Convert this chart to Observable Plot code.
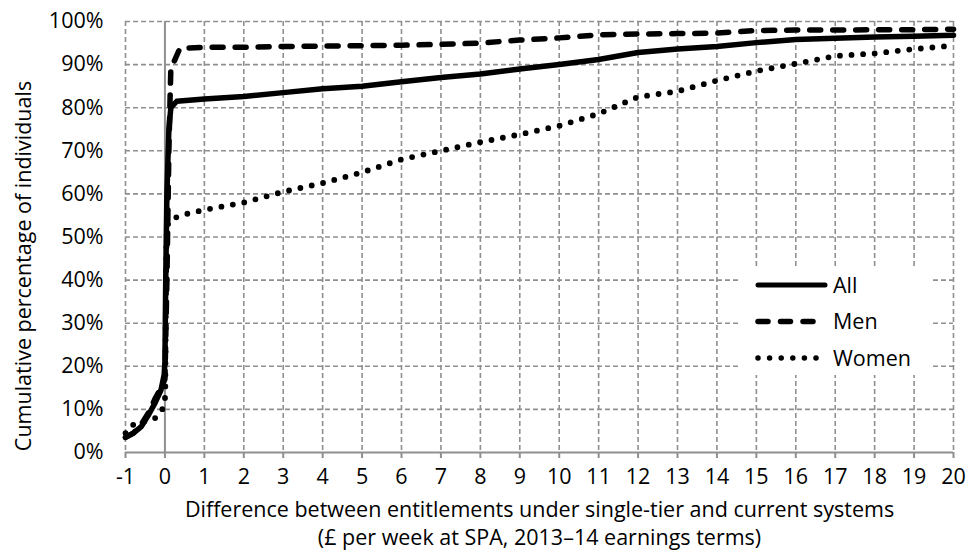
<!DOCTYPE html>
<html>
<head>
<meta charset="utf-8">
<script src="https://cdn.jsdelivr.net/npm/d3@7"></script>
<script src="https://cdn.jsdelivr.net/npm/@observablehq/plot@0.6"></script>
<style>
  html, body { margin: 0; padding: 0; background: white; }
</style>
</head>
<body>
<div id="chart"></div>
<script>
// ---- Data ----
const xTicks = [-1,0,1,2,3,4,5,6,7,8,9,10,11,12,13,14,15,16,17,18,19,20];
const yTicks = [0,10,20,30,40,50,60,70,80,90,100];

const allData = [
  [-1,3.5],[-0.8,4.5],[-0.6,6],[-0.4,9],[-0.25,11.5],[-0.1,14.5],[-0.02,18],[0,21],
  [0.02,40],[0.05,60],[0.1,75],[0.15,80],[0.3,81.5],[1,82],[2,82.6],[3,83.5],[4,84.4],
  [5,85],[6,86],[7,87],[8,87.8],[9,89],[10,90],[11,91.2],[12,92.8],[13,93.6],[14,94.2],
  [15,95.1],[16,95.8],[17,96.1],[18,96.4],[19,96.6],[20,96.8]
];
const menData = [
  [-1,3.5],[-0.8,4.5],[-0.6,6.5],[-0.4,9.5],[-0.25,12.5],[-0.1,15],[0,17],[0.05,40],
  [0.1,70],[0.13,82],[0.15,89],[0.38,93.8],[1,94],[2,94],[3,94.2],[4,94.3],[5,94.4],
  [6,94.5],[7,94.7],[8,95],[9,95.7],[10,96.2],[11,96.9],[12,97.1],[13,97.2],[14,97.3],
  [15,97.9],[16,98],[17,98],[18,98.1],[19,98.1],[20,98.2]
];
const womenData = [
  [-1,4.5],[-0.85,6.3],[-0.6,7],[-0.28,7.7],[-0.08,9.6],[0,12],[0.01,15],[0.02,30],
  [0.04,50],[0.08,53],[0.15,54.2],[0.3,54.6],[0.57,55.4],[1,56.3],[2,58],[3,60.5],
  [4,62.5],[5,65],[6,68],[7,70],[8,72],[9,73.8],[10,75.8],[11,78.6],[12,82.5],[13,83.8],
  [14,86.3],[15,88.5],[16,90.2],[17,92],[18,92.6],[19,93.6],[20,94.4]
];
const seriesNames = ["All", "Men", "Women"];
const yLabel = "Cumulative percentage of individuals";
const xLabelLines = [
  "Difference between entitlements under single-tier and current systems",
  "(£ per week at SPA, 2013–14 earnings terms)"
];

// ---- Styles ----
const styles = {
  All:   {dash: null,       width: 5.5},
  Men:   {dash: "11 12",    width: 5.5},
  Women: {dash: "0 11.6",   width: 5.8}
};
const gridColor = "#8f8f8f";
const font = "'Open Sans', 'Noto Sans', sans-serif";
const fs = 21.5;

const dataBy = {All: allData, Men: menData, Women: womenData};
const rows = seriesNames.flatMap(name => dataBy[name].map(([x, y]) => ({x, y, series: name})));

const lineMark = name => Plot.line(rows.filter(d => d.series === name), {
  x: "x", y: "y", stroke: "black",
  strokeWidth: styles[name].width,
  strokeDasharray: styles[name].dash,
  strokeLinecap: "round", strokeLinejoin: "round", curve: "linear"
});

const plot = Plot.plot({
  width: 974, height: 554,
  marginLeft: 125, marginRight: 21, marginTop: 21, marginBottom: 102,
  style: {fontFamily: font, fontSize: fs + "px", color: "black", background: "white", overflow: "visible"},
  x: {domain: [-1, 20], ticks: xTicks, label: null},
  y: {domain: [0, 100], ticks: yTicks, label: null},
  marks: [
    Plot.gridX(xTicks.filter(d => d !== 0), {stroke: gridColor, strokeOpacity: 1, strokeWidth: 1.6, strokeDasharray: "5 3"}),
    Plot.gridY(yTicks.filter(d => d !== 0), {stroke: gridColor, strokeOpacity: 1, strokeWidth: 1.6, strokeDasharray: "5 3"}),
    Plot.ruleX([0], {stroke: gridColor, strokeWidth: 2}),
    Plot.ruleY([0], {stroke: gridColor, strokeWidth: 2}),
    Plot.axisX(xTicks, {tickSize: 6, tickPadding: 10, stroke: gridColor, strokeWidth: 2, fill: "black", tickFormat: d => String(d), label: null, fontSize: fs}),
    Plot.axisY(yTicks, {tickSize: 0, tickPadding: 22, tickFormat: d => d + "%", label: null, fill: "black", fontSize: fs}),
    Plot.text([yLabel], {text: d => d, frameAnchor: "left", textAnchor: "middle", rotate: -90, dx: -101, dy: 29, fontSize: fs, fill: "black"}),
    Plot.text([xLabelLines.join("\n")], {text: d => d, frameAnchor: "bottom", textAnchor: "middle", lineAnchor: "top", dy: 44, lineHeight: 1.32, fontSize: fs, fill: "black"}),
    lineMark("Women"),
    lineMark("Men"),
    lineMark("All")
  ]
});

// ---- Legend (inside the plot, lower right) ----
const svg = d3.select(plot);
const lg = svg.append("g");
lg.append("rect").attr("x", 738).attr("y", 267).attr("width", 195).attr("height", 108).attr("fill", "white");
seriesNames.forEach((name, i) => {
  const y = 285 + i * 36.5;
  lg.append("line")
    .attr("x1", 758).attr("x2", 825).attr("y1", y).attr("y2", y)
    .attr("stroke", "black")
    .attr("stroke-width", name === "All" ? 5 : 5.5)
    .attr("stroke-linecap", "round")
    .attr("stroke-dasharray", name === "All" ? null : (name === "Men" ? "10 12.5" : "0 11.6"));
  lg.append("text")
    .attr("x", 833).attr("y", y).attr("dy", "0.35em")
    .attr("text-anchor", "start")
    .attr("font-family", font).attr("font-size", fs).attr("fill", "black")
    .text(name);
});

document.getElementById("chart").appendChild(plot);
</script>
</body>
</html>
